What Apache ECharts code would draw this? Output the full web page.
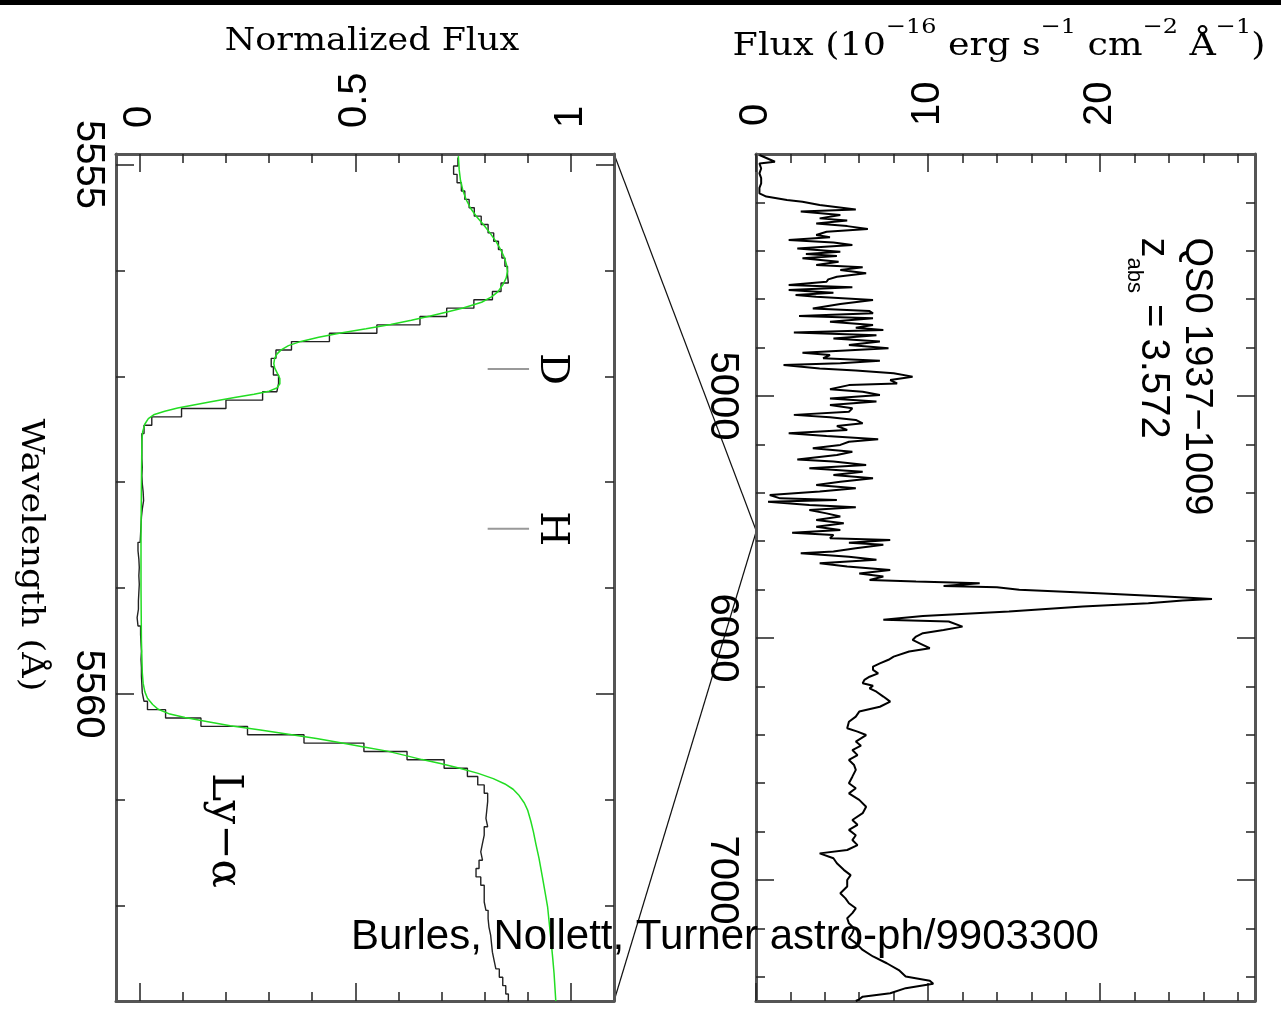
<!DOCTYPE html>
<html>
<head>
<meta charset="utf-8">
<script src="https://cdn.jsdelivr.net/npm/echarts@6/dist/echarts.min.js"></script>
<style>
  html, body { margin: 0; padding: 0; background: #fff; }
  #chart { width: 1281px; height: 1012px; }
</style>
</head>
<body>
<div id="chart"></div>
<script>
// QSO 1937-1009 spectrum (upper panel), wavelength in A, flux in 1e-16 erg/s/cm2/A
const specWave = [4004, 4032, 4039, 4060, 4080, 4100, 4121, 4140, 4163, 4176, 4190, 4197, 4211, 4229, 4238, 4252, 4266, 4275, 4287, 4298,
  4310, 4321, 4335, 4344, 4355, 4366, 4376, 4390, 4404, 4413, 4421, 4431, 4445, 4459, 4468, 4479, 4493, 4507, 4518, 4528,
  4541, 4551, 4562, 4573, 4583, 4590, 4603, 4620, 4638, 4649, 4658, 4669, 4679, 4693, 4707, 4718, 4727, 4738, 4749, 4762,
  4775, 4789, 4803, 4821, 4831, 4844, 4854, 4865, 4872, 4886, 4895, 4906, 4920, 4934, 4948, 4955, 4972, 4982, 4996, 5010,
  5023, 5037, 5051, 5065, 5078, 5088, 5099, 5113, 5124, 5140, 5154, 5165, 5179, 5189, 5202, 5216, 5230, 5244, 5262, 5271,
  5285, 5299, 5313, 5326, 5340, 5354, 5368, 5381, 5395, 5409, 5423, 5430, 5437, 5450, 5460, 5471, 5485, 5498, 5512, 5526,
  5540, 5554, 5565, 5574, 5588, 5595, 5606, 5615, 5629, 5643, 5650, 5664, 5677, 5691, 5705, 5719, 5733, 5746, 5760, 5767,
  5774, 5785, 5790, 5801, 5815, 5829, 5839, 5845, 5856, 5870, 5891, 5909, 5925, 5932, 5953, 5967, 5980, 5994, 6008, 6025,
  6042, 6056, 6077, 6090, 6105, 6118, 6132, 6146, 6160, 6173, 6187, 6197, 6208, 6222, 6242, 6263, 6284, 6304, 6325, 6346,
  6373, 6387, 6401, 6428, 6445, 6463, 6484, 6504, 6525, 6545, 6573, 6600, 6621, 6642, 6669, 6697, 6724, 6752, 6772, 6793,
  6815, 6835, 6856, 6876, 6890, 6910, 6931, 6958, 6980, 7000, 7027, 7055, 7076, 7096, 7117, 7137, 7158, 7179, 7200, 7220,
  7240, 7261, 7289, 7316, 7344, 7372, 7399, 7416, 7429, 7447, 7468, 7482, 7493, 7500];
const specFlux = [0.2, 1.1, 0.2, 0.3, 0.2, 0.3, 0.3, 0.2, 0.2, 0.6, 1.8, 2.7, 3.7, 5.8, 2.6, 4.9, 3.7, 5.3, 3.5, 5.3,
  6.5, 4.1, 3.5, 4.3, 1.9, 4.5, 5.6, 2.4, 4.9, 2.9, 4.7, 2.7, 4.8, 3.5, 6.2, 4.9, 6.4, 4.7, 4.2, 4.1,
  1.9, 5.6, 1.9, 4.5, 2.3, 3.5, 6.8, 4.9, 3.3, 6.6, 6.8, 2.5, 6.8, 4.3, 6.8, 5.8, 7.4, 2.2, 7.0, 4.5,
  7.2, 5.4, 7.7, 2.7, 4.3, 3.9, 7.2, 4.9, 1.6, 3.7, 5.8, 8.0, 9.1, 7.8, 8.2, 5.4, 4.3, 6.2, 7.2, 4.3,
  7.0, 4.3, 5.6, 5.4, 2.2, 4.3, 5.8, 6.2, 4.7, 5.3, 1.9, 4.1, 7.1, 5.4, 4.9, 3.3, 5.6, 4.7, 2.4, 4.5,
  6.4, 3.1, 6.2, 4.5, 6.8, 4.9, 3.5, 5.8, 3.7, 0.8, 1.4, 4.7, 0.7, 3.1, 5.8, 3.1, 4.1, 4.9, 3.5, 5.1,
  3.5, 4.9, 2.1, 4.5, 4.3, 7.8, 5.4, 7.4, 5.8, 4.5, 2.6, 5.4, 7.0, 3.7, 5.3, 7.8, 6.0, 7.4, 6.6, 9.3,
  13.0, 10.9, 14.0, 15.3, 19.9, 23.8, 26.5, 24.8, 22.8, 19.0, 14.7, 9.7, 7.4, 11.2, 12.0, 10.9, 9.7, 9.3, 9.1, 9.6,
  10.1, 8.9, 8.0, 7.7, 7.2, 6.8, 6.8, 7.1, 6.6, 6.3, 6.2, 6.8, 6.6, 7.0, 7.4, 7.8, 7.2, 6.0, 5.8, 5.4,
  5.3, 5.9, 6.4, 5.8, 6.1, 5.6, 5.9, 5.4, 5.7, 5.8, 5.6, 5.4, 5.8, 5.4, 6.0, 6.4, 6.2, 5.6, 5.9, 5.4,
  5.8, 5.6, 5.9, 5.3, 3.7, 4.5, 4.7, 5.1, 5.5, 5.3, 5.3, 4.9, 5.2, 5.4, 5.8, 5.6, 5.3, 5.4, 5.7, 5.6,
  5.4, 5.8, 6.2, 6.8, 7.6, 8.3, 8.7, 10.1, 10.3, 8.7, 7.8, 6.2, 6.0, 5.8];

// zoom on the absorber: normalized flux per 0.079 A pixel
const binStart = 5554.934;
const binWidth = 0.079;
const binFlux = [0.738, 0.728, 0.736, 0.746, 0.754, 0.764, 0.776, 0.792, 0.808, 0.821, 0.832, 0.84, 0.847, 0.853, 0.855, 0.838, 0.818,
  0.775, 0.712, 0.65, 0.55, 0.44, 0.352, 0.316, 0.305, 0.31, 0.322, 0.318, 0.285, 0.2, 0.097, 0.028, 0.01, 0.005,
  0.005, 0.005, 0.006, 0.005, 0.006, 0.008, 0.009, 0.006, 0.004, 0.003, 0.002, 0.001, -0.004, -0.002, -0.001, -0.002, -0.001,
  -0.002, -0.003, -0.003, -0.006, -0.004, 0.002, 0.003, 0.004, 0.003, 0.004, 0.004, 0.005, 0.006, 0.01, 0.018, 0.06, 0.142,
  0.25, 0.381, 0.52, 0.62, 0.706, 0.76, 0.784, 0.799, 0.807, 0.805, 0.803, 0.807, 0.799, 0.795, 0.791, 0.795, 0.787, 0.78,
  0.791, 0.799, 0.799, 0.803, 0.808, 0.81, 0.814, 0.816, 0.818, 0.822, 0.826, 0.834, 0.842, 0.849, 0.855];

// model fit (green)
const fitWave = [5554.92, 5555.05, 5555.15, 5555.25, 5555.33, 5555.41, 5555.49, 5555.57, 5555.65, 5555.73, 5555.81, 5555.88,
  5555.95, 5556.01, 5556.07, 5556.13, 5556.2, 5556.25, 5556.3, 5556.355, 5556.39, 5556.43, 5556.47, 5556.51, 5556.55,
  5556.59, 5556.63, 5556.67, 5556.71, 5556.75, 5556.79, 5556.83, 5556.88, 5556.92, 5556.97, 5557.02, 5557.07, 5557.11,
  5557.14, 5557.17, 5557.2, 5557.24, 5557.27, 5557.3, 5557.33, 5557.36, 5557.4, 5557.45, 5557.52, 5557.61, 5558.0, 5558.5,
  5559.0, 5559.5, 5559.8, 5559.9, 5559.98, 5560.04, 5560.1, 5560.145, 5560.19, 5560.223, 5560.26, 5560.3, 5560.34, 5560.38,
  5560.42, 5560.46, 5560.5, 5560.54, 5560.58, 5560.62, 5560.66, 5560.7, 5560.75, 5560.8, 5560.85, 5560.9, 5560.96, 5561.03,
  5561.1, 5561.2, 5561.3, 5561.42, 5561.55, 5561.73, 5561.87, 5562.01, 5562.17, 5562.33, 5562.5, 5562.64, 5562.9];
const fitFlux = [0.739, 0.741, 0.744, 0.75, 0.757, 0.767, 0.781, 0.798, 0.813, 0.827, 0.838, 0.846,
  0.851, 0.853, 0.85, 0.843, 0.831, 0.816, 0.793, 0.75, 0.715, 0.674, 0.63, 0.582, 0.525,
  0.466, 0.415, 0.374, 0.345, 0.328, 0.318, 0.313, 0.311, 0.313, 0.319, 0.325, 0.325, 0.318,
  0.3, 0.265, 0.22, 0.165, 0.125, 0.088, 0.058, 0.034, 0.02, 0.012, 0.007, 0.005, 0.004, 0.003,
  0.003, 0.004, 0.006, 0.008, 0.012, 0.018, 0.03, 0.043, 0.07, 0.105, 0.155, 0.21, 0.28, 0.345,
  0.41, 0.466, 0.52, 0.574, 0.615, 0.655, 0.7, 0.74, 0.785, 0.82, 0.847, 0.866, 0.88, 0.892,
  0.9, 0.907, 0.913, 0.919, 0.926, 0.934, 0.94, 0.946, 0.95, 0.954, 0.958, 0.961, 0.965];

// ticks and tick labels
const lowerFluxMinor = [0, 0.1, 0.2, 0.3, 0.4, 0.5, 0.6, 0.7, 0.8, 0.9, 1];
const lowerFluxLabels = [0, 0.5, 1];
const lowerWaveMinor = [5555, 5556, 5557, 5558, 5559, 5560, 5561, 5562];
const lowerWaveLabels = [5555, 5560];
const upperFluxMinor = [2, 4, 6, 8, 10, 12, 14, 16, 18, 20, 22, 24, 26, 28];
const upperFluxLabels = [0, 10, 20];
const upperWaveMinor = [4200, 4400, 4600, 4800, 5000, 5200, 5400, 5600, 5800, 6000, 6200, 6400, 6600, 6800, 7000, 7200, 7400];
const upperWaveLabels = [5000, 6000, 7000];

const markers = [{ name: 'D', wave: 5556.93 }, { name: 'H', wave: 5558.44 }];

const tickStyle = { color: '#222', width: 1.5 };

// each side of a panel = one axis with short ticks (and the frame line) + one with long ticks
function frameAxes(gridIndex, position, min, max, minor, major, label, inverse) {
  const base = {
    type: 'value', gridIndex, position, min, max, inverse: !!inverse,
    splitLine: { show: false }
  };
  return [
    Object.assign({}, base, {
      axisLine: { show: true, onZero: false, lineStyle: { color: '#555', width: 3 } },
      axisTick: { show: true, inside: true, length: 9, lineStyle: tickStyle, customValues: minor },
      axisLabel: label ? Object.assign({
        show: true, customValues: major, rotate: -90,
        fontFamily: 'Liberation Sans', fontSize: 40, color: '#000',
        formatter: v => String(v)
      }, label) : { show: false }
    }),
    Object.assign({}, base, {
      axisLine: { show: false, onZero: false },
      axisTick: { show: true, inside: true, length: 18, lineStyle: tickStyle, customValues: major },
      axisLabel: { show: false }
    })
  ];
}

const histData = [];
binFlux.forEach((f, i) => {
  const lo = Math.max(binStart + i * binWidth, 5554.9);
  histData.push([f, lo], [f, binStart + (i + 1) * binWidth]);
});

const chart = echarts.init(document.getElementById('chart'));

chart.setOption({
  animation: false,
  backgroundColor: '#fff',
  grid: [
    { left: 116, top: 154, width: 498, height: 847, outerBoundsMode: 'none' },
    { left: 756, top: 154, width: 499, height: 847, outerBoundsMode: 'none' }
  ],
  xAxis: [
    ...frameAxes(0, 'top', -0.055, 1.1, lowerFluxMinor, lowerFluxLabels, { margin: 26 }),
    ...frameAxes(0, 'bottom', -0.055, 1.1, lowerFluxMinor, lowerFluxLabels, null),
    ...frameAxes(1, 'top', 0, 29, upperFluxMinor, upperFluxLabels, { margin: 28 }),
    ...frameAxes(1, 'bottom', 0, 29, upperFluxMinor, upperFluxLabels, null)
  ],
  yAxis: [
    ...frameAxes(0, 'left', 5554.9, 5562.9, lowerWaveMinor, lowerWaveLabels, { margin: 8 }, true),
    ...frameAxes(0, 'right', 5554.9, 5562.9, lowerWaveMinor, lowerWaveLabels, null, true),
    ...frameAxes(1, 'left', 4000, 7500, upperWaveMinor, upperWaveLabels, { margin: 14 }, true),
    ...frameAxes(1, 'right', 4000, 7500, upperWaveMinor, upperWaveLabels, null, true)
  ],
  series: [
    {
      name: 'spectrum', type: 'line', xAxisIndex: 4, yAxisIndex: 4, symbol: 'none',
      lineStyle: { color: '#000', width: 2 },
      data: specFlux.map((f, i) => [f, specWave[i]])
    },
    {
      name: 'data', type: 'line', xAxisIndex: 0, yAxisIndex: 0, symbol: 'none',
      lineStyle: { color: '#222', width: 1.4 },
      data: histData
    },
    {
      name: 'fit', type: 'line', xAxisIndex: 0, yAxisIndex: 0, symbol: 'none',
      lineStyle: { color: '#22dd22', width: 1.5 },
      data: fitFlux.map((f, i) => [f, fitWave[i]])
    }
  ]
});

const lowPx = (x, y) => chart.convertToPixel({ seriesIndex: 1 }, [x, y]);
const upPx = (x, y) => chart.convertToPixel({ seriesIndex: 0 }, [x, y]);
const serif = 'DejaVu Serif';
const rot = -Math.PI / 2;

const graphic = [
  { type: 'rect', shape: { x: 0, y: 0, width: 1281, height: 5 }, style: { fill: '#000' } },
  {
    type: 'text', x: 372, y: 42, scaleX: 1.09,
    style: { text: 'Normalized Flux', fontFamily: serif, fontSize: 32, fill: '#000', align: 'center', verticalAlign: 'middle' }
  },
  {
    type: 'text', x: 999, y: 40, scaleX: 1.14,
    style: {
      text: '{n|Flux (10}{s|−16}{n| erg s}{s|−1}{n| cm}{s|−2}{n| Å}{s|−1}{n|)}',
      align: 'center', verticalAlign: 'middle', fill: '#000',
      rich: {
        n: { fontFamily: serif, fontSize: 32, lineHeight: 46, verticalAlign: 'bottom' },
        s: { fontFamily: serif, fontSize: 21, lineHeight: 46, verticalAlign: 'top' }
      }
    }
  },
  {
    type: 'text', x: 30, y: 555, rotation: rot, scaleX: 1.1,
    style: { text: 'Wavelength (Å)', fontFamily: serif, fontSize: 32, fill: '#000', align: 'center', verticalAlign: 'middle' }
  }
];

// zoom lines joining the two panels
[5554.9, 5562.9].forEach(w => {
  const a = lowPx(1.1, w), b = upPx(0, w);
  graphic.push({ type: 'line', shape: { x1: a[0], y1: a[1], x2: b[0], y2: b[1] }, style: { stroke: '#111', lineWidth: 1.2 } });
});

markers.forEach(m => {
  const a = lowPx(0.807, m.wave), b = lowPx(0.903, m.wave), t = lowPx(0.955, m.wave);
  graphic.push({ type: 'line', shape: { x1: a[0], y1: a[1], x2: b[0], y2: b[1] }, style: { stroke: '#999', lineWidth: 2 } });
  graphic.push({
    type: 'text', x: t[0], y: t[1], rotation: rot,
    style: { text: m.name, fontFamily: serif, fontSize: 40, fill: '#000', align: 'center', verticalAlign: 'middle' }
  });
});

const ly = lowPx(0.195, 5561.29);
graphic.push({
  type: 'text', x: ly[0], y: ly[1], rotation: rot,
  style: { text: 'Ly−α', fontFamily: serif, fontSize: 42, fill: '#000', align: 'center', verticalAlign: 'middle' }
});

const q1 = upPx(25.6, 4345), q2 = upPx(22.8, 4345);
graphic.push({
  type: 'text', x: q1[0], y: q1[1], rotation: rot,
  style: { text: 'QS0 1937−1009', fontFamily: 'Liberation Sans', fontSize: 38, fill: '#000', align: 'left', verticalAlign: 'middle' }
});
graphic.push({
  type: 'text', x: q2[0], y: q2[1], rotation: rot,
  style: {
    text: '{m|z}{b|abs}{m| = 3.572}', align: 'left', verticalAlign: 'middle', fill: '#000',
    rich: {
      m: { fontFamily: 'Liberation Sans', fontSize: 40, lineHeight: 50, verticalAlign: 'top' },
      b: { fontFamily: 'Liberation Sans', fontSize: 22, lineHeight: 50, verticalAlign: 'bottom' }
    }
  }
});

graphic.push({
  type: 'text', x: 725, y: 937, z: 100,
  style: { text: 'Burles, Nollett, Turner astro-ph/9903300', fontFamily: 'Liberation Sans', fontSize: 42, fill: '#000', align: 'center', verticalAlign: 'middle' }
});

chart.setOption({ graphic });
</script>
</body>
</html>
